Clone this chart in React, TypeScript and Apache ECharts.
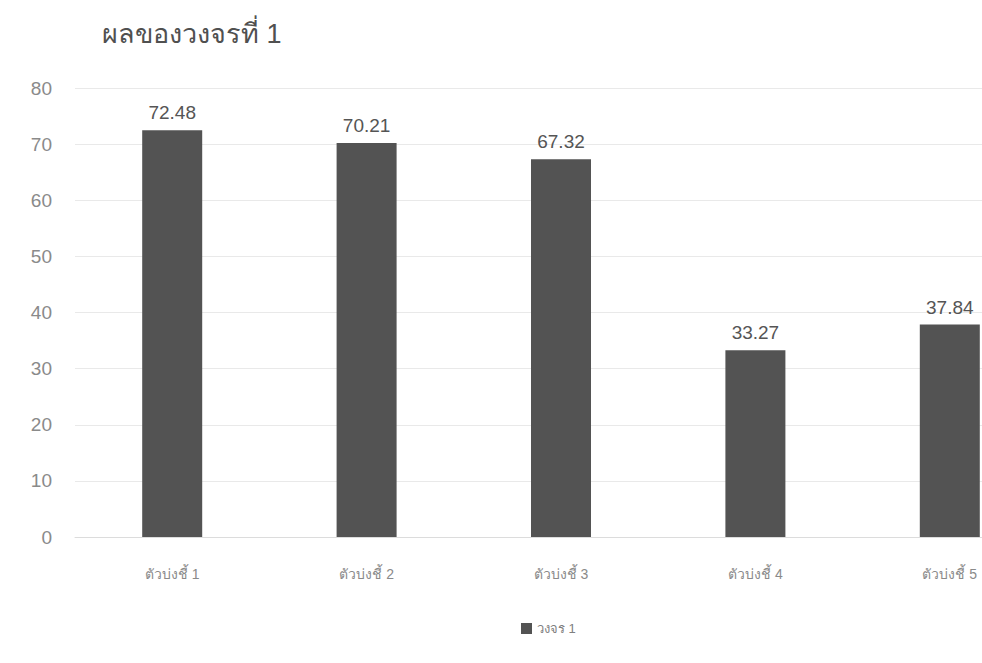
import React, { useEffect, useRef } from "react";
import * as echarts from "echarts";

// Chart data
const categories = ["ตัวบ่งชี้ 1", "ตัวบ่งชี้ 2", "ตัวบ่งชี้ 3", "ตัวบ่งชี้ 4", "ตัวบ่งชี้ 5"];
const cycle1Values = [72.48, 70.21, 67.32, 33.27, 37.84];
const seriesName = "วงจร 1";
const titleText = "ผลของวงจรที่ 1";
const yTicks = { min: 0, max: 80, interval: 10 };

const FONT = '"Liberation Sans", "Noto Sans", "DejaVu Sans", sans-serif';

// The plot runs past the right edge of the visible frame, so the last bar is cut off.
const VIEW_W = 982;
const VIEW_H = 663;
const CANVAS_W = 1047;

export default function App() {
  const ref = useRef<HTMLDivElement>(null);

  useEffect(() => {
    if (!ref.current) return;
    const chart = echarts.init(ref.current, undefined, { renderer: "svg" });
    chart.setOption({
      animation: false,
      backgroundColor: "#ffffff",
      title: {
        text: titleText,
        left: 97,
        top: 15,
        textStyle: { fontFamily: FONT, fontSize: 27, fontWeight: "normal", color: "#505050" },
      },
      legend: {
        data: [seriesName],
        left: 516,
        top: 617,
        itemWidth: 11,
        itemHeight: 11,
        itemGap: 6,
        icon: "rect",
        textStyle: { fontFamily: FONT, fontSize: 13, color: "#808080" },
      },
      grid: {
        left: 75,
        right: 0,
        top: 88,
        bottom: VIEW_H - 537,
        containLabel: false,
      },
      xAxis: {
        type: "category",
        data: categories,
        axisLine: { show: true, lineStyle: { color: "#dcdcdc", width: 1 } },
        axisTick: { show: false },
        axisLabel: { fontFamily: FONT, fontSize: 14, color: "#8a8a8a", margin: 30 },
      },
      yAxis: {
        type: "value",
        min: yTicks.min,
        max: yTicks.max,
        interval: yTicks.interval,
        axisLine: { show: false },
        axisTick: { show: false },
        axisLabel: { fontFamily: FONT, fontSize: 19, color: "#8a8a8a", margin: 23 },
        splitLine: { lineStyle: { color: "#e9e9e9", width: 1 } },
      },
      series: [
        {
          name: seriesName,
          type: "bar",
          data: cycle1Values,
          barWidth: 60,
          itemStyle: { color: "#535353" },
          label: {
            show: true,
            position: "top",
            distance: 8,
            fontFamily: FONT,
            fontSize: 19,
            color: "#555",
            formatter: (p: any) => p.value.toFixed(2),
          },
        },
      ],
    });
    return () => chart.dispose();
  }, []);

  return (
    <div
      style={{
        position: "fixed",
        left: 0,
        top: 0,
        width: VIEW_W,
        height: VIEW_H,
        overflow: "hidden",
        background: "#fff",
      }}
    >
      <div ref={ref} style={{ width: CANVAS_W, height: VIEW_H }} />
    </div>
  );
}
